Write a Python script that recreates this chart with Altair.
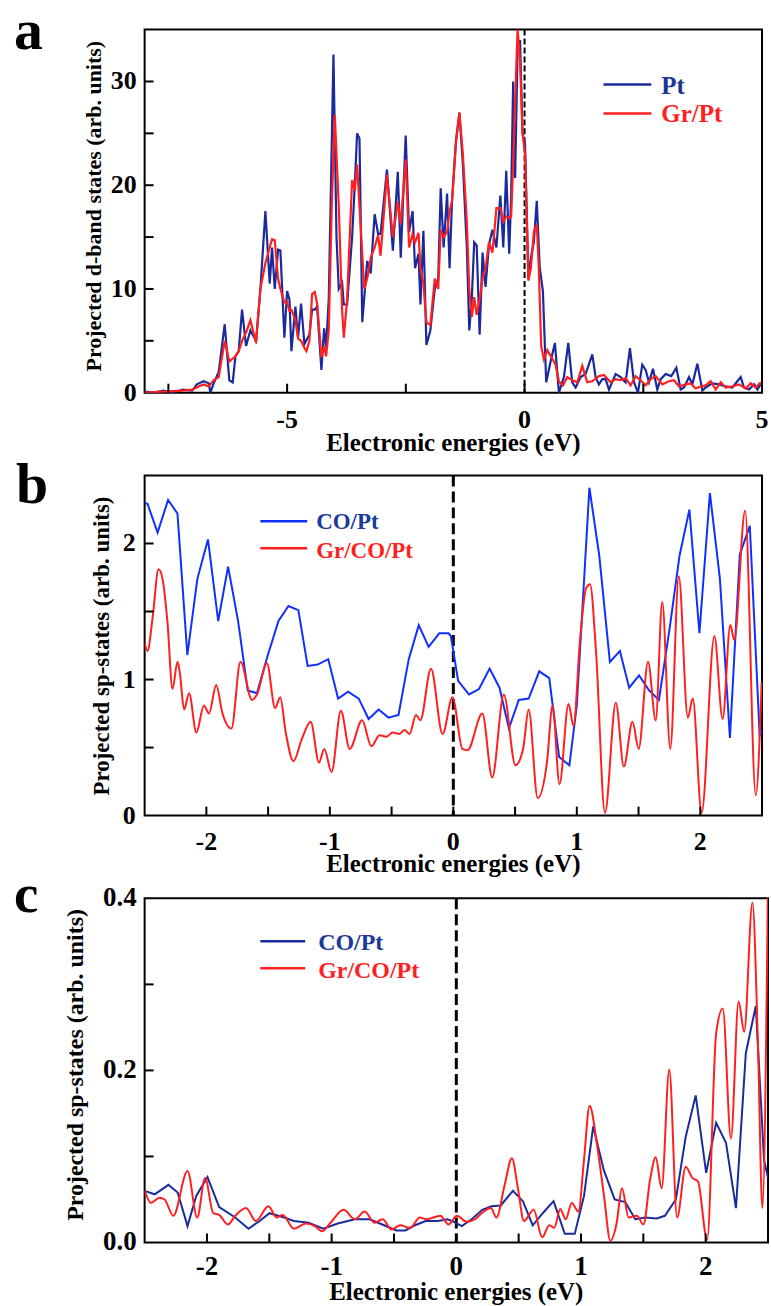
import altair as alt
import pandas as pd

FONT = "Liberation Serif"

# ---------------- Panel a : projected d-band states ----------------
a_pt_e = [-8.0, -7.8, -7.6, -7.4, -7.2, -7.0, -6.9, -6.76, -6.65, -6.616,
          -6.546, -6.44, -6.314, -6.216, -6.145, -6.089, -6.019, -5.949, -5.864, -5.773,
          -5.654, -5.562, -5.457, -5.366, -5.317, -5.26, -5.19, -5.141, -5.057, -5.0,
          -4.951, -4.909, -4.825, -4.769, -4.706, -4.635, -4.53, -4.474, -4.418, -4.368,
          -4.277, -4.221, -4.179, -4.123, -4.024, -3.96, -3.912, -3.842, -3.806, -3.736,
          -3.631, -3.575, -3.526, -3.476, -3.417, -3.313, -3.24, -3.157, -3.084, -3.032,
          -2.898, -2.773, -2.669, -2.607, -2.503, -2.431, -2.358, -2.306, -2.233, -2.192,
          -2.13, -2.067, -1.984, -1.891, -1.818, -1.766, -1.704, -1.631, -1.579, -1.527,
          -1.445, -1.372, -1.299, -1.216, -1.164, -1.112, -1.06, -1.008, -0.946, -0.884,
          -0.822, -0.749, -0.676, -0.593, -0.51, -0.448, -0.386, -0.323, -0.282, -0.24,
          -0.199, -0.147, -0.095, -0.043, 0.01, 0.081, 0.133, 0.195, 0.257, 0.32,
          0.386, 0.456, 0.548, 0.639, 0.723, 0.829, 0.92, 1.004, 1.075, 1.18,
          1.285, 1.426, 1.496, 1.566, 1.637, 1.707, 1.777, 1.917, 2.023, 2.128,
          2.219, 2.304, 2.388, 2.479, 2.55, 2.62, 2.704, 2.795, 2.866, 2.971,
          3.09, 3.196, 3.287, 3.357, 3.463, 3.533, 3.638, 3.744, 3.814, 3.954,
          4.095, 4.235, 4.376, 4.551, 4.621, 4.727, 4.832, 4.902, 4.973]
a_pt_v = [0.1, 0.0, 0.2, 0.0, 0.3, 0.2, 0.8, 1.1, 0.9, 0.0,
          0.9, 2.0, 6.6, 1.2, 1.0, 3.5, 4.0, 8.0, 4.5, 6.0,
          5.0, 10.0, 17.5, 10.5, 14.0, 10.0, 13.8, 13.7, 5.3, 9.8,
          9.0, 4.0, 8.3, 5.3, 8.6, 4.7, 5.6, 8.0, 8.0, 8.3,
          2.2, 6.2, 4.4, 9.0, 32.6, 15.0, 10.0, 10.6, 8.5, 8.5,
          15.0, 20.0, 25.0, 24.5, 6.8, 12.7, 11.5, 17.2, 15.3, 15.3,
          21.5, 13.7, 21.3, 13.0, 24.8, 15.5, 17.5, 12.0, 13.4, 8.5,
          15.6, 4.6, 6.0, 10.0, 11.0, 19.7, 14.0, 19.2, 12.0, 18.5,
          24.3, 27.0, 22.0, 14.0, 6.0, 9.0, 14.5, 14.2, 5.6, 13.5,
          10.2, 14.3, 15.7, 14.0, 19.0, 14.0, 21.4, 13.4, 19.0, 30.0,
          20.7, 33.0, 34.0, 25.0, 24.0, 11.0, 13.0, 14.5, 18.5, 12.0,
          9.8, 1.0, 3.0, 4.8, 0.0, 1.5, 4.8, 1.0, 0.5, 1.5,
          1.8, 3.7, 1.5, 0.8, 1.3, 1.3, 0.3, 1.8, 1.5, 1.0,
          4.3, 1.0, 0.0, 2.7, 2.2, 1.0, 2.3, 0.3, 1.3, 1.8,
          1.6, 2.4, 0.3, 0.5, 1.5, 0.8, 2.8, 0.2, 0.5, 0.9,
          0.8, 0.6, 0.5, 1.5, 0.5, 0.3, 0.8, 0.3, 0.8]

a_gr_e = [-8.0, -7.6, -7.2, -7.0, -6.862, -6.76, -6.651, -6.546, -6.44, -6.314,
          -6.216, -6.089, -6.019, -5.949, -5.864, -5.773, -5.654, -5.562, -5.457, -5.317,
          -5.26, -5.19, -5.141, -5.057, -5.0, -4.951, -4.909, -4.825, -4.769, -4.706,
          -4.635, -4.593, -4.53, -4.474, -4.418, -4.368, -4.277, -4.221, -4.179, -4.123,
          -4.06, -3.996, -3.912, -3.842, -3.806, -3.736, -3.631, -3.575, -3.526, -3.476,
          -3.375, -3.313, -3.24, -3.157, -3.084, -3.032, -2.898, -2.773, -2.669, -2.607,
          -2.503, -2.431, -2.358, -2.306, -2.233, -2.192, -2.13, -2.067, -1.984, -1.891,
          -1.818, -1.766, -1.704, -1.631, -1.579, -1.527, -1.445, -1.372, -1.299, -1.216,
          -1.164, -1.112, -1.06, -1.008, -0.946, -0.884, -0.822, -0.749, -0.676, -0.593,
          -0.51, -0.448, -0.386, -0.323, -0.282, -0.24, -0.199, -0.147, -0.095, -0.043,
          0.01, 0.081, 0.133, 0.195, 0.257, 0.30, 0.35, 0.407, 0.478, 0.583,
          0.653, 0.723, 0.808, 0.899, 1.004, 1.11, 1.215, 1.32, 1.426, 1.566,
          1.672, 1.812, 1.917, 2.023, 2.128, 2.233, 2.339, 2.444, 2.55, 2.655,
          2.76, 2.9, 3.041, 3.147, 3.252, 3.392, 3.498, 3.603, 3.708, 3.814,
          3.919, 4.024, 4.13, 4.235, 4.376, 4.516, 4.657, 4.762, 4.867, 4.973]
a_gr_v = [0.0, 0.1, 0.2, 0.3, 0.6, 0.8, 0.6, 1.2, 1.5, 5.0,
          3.0, 3.5, 4.0, 5.0, 5.8, 7.0, 4.8, 10.0, 12.5, 14.8,
          14.7, 11.0, 10.0, 8.7, 8.7, 7.9, 8.0, 7.0, 5.2, 5.0,
          4.3, 4.0, 5.0, 9.5, 9.7, 8.6, 3.4, 4.5, 3.5, 6.0,
          18.0, 26.8, 18.0, 8.0, 5.3, 9.0, 20.5, 19.5, 22.0, 18.0,
          10.0, 11.0, 13.0, 14.0, 15.2, 13.2, 21.0, 15.0, 18.4, 16.3,
          22.5, 14.0, 15.3, 14.5, 15.4, 12.0, 10.5, 6.8, 6.5, 11.0,
          10.0, 15.7, 15.0, 15.5, 17.5, 18.5, 24.0, 27.0, 23.0, 16.5,
          10.0, 7.3, 9.2, 7.5, 9.0, 11.0, 12.0, 14.5, 13.5, 17.8,
          17.8, 16.5, 17.0, 16.8, 17.0, 22.0, 28.0, 35.0, 32.0, 25.0,
          23.0, 10.8, 12.0, 15.5, 16.2, 12.0, 4.5, 3.2, 4.1, 3.3,
          2.7, 1.1, 0.7, 1.5, 1.2, 1.0, 2.6, 1.0, 1.1, 1.6,
          1.7, 1.0, 1.3, 1.2, 1.4, 0.7, 1.6, 1.2, 0.7, 1.3,
          1.6, 0.8, 1.1, 1.2, 0.6, 0.8, 0.9, 0.4, 0.6, 0.7,
          1.1, 0.3, 1.0, 0.5, 0.6, 0.8, 0.4, 0.9, 0.5, 1.0]

# ---------------- Panel b : projected sp-states ----------------
b_co_e = [-2.5, -2.476, -2.395, -2.31, -2.234, -2.154, -2.073, -1.987, -1.904, -1.824,
          -1.743, -1.665, -1.59, -1.502, -1.416, -1.335, -1.255, -1.18, -1.099, -1.013,
          -0.933, -0.852, -0.766, -0.686, -0.605, -0.525, -0.444, -0.361, -0.28, -0.2,
          -0.114, -0.039, -0.02, 0.039, 0.127, 0.208, 0.294, 0.374, 0.45, 0.53,
          0.61, 0.696, 0.777, 0.857, 0.94, 1.0, 1.053, 1.102, 1.182, 1.268,
          1.349, 1.424, 1.504, 1.585, 1.665, 1.751, 1.832, 1.912, 1.993, 2.078,
          2.159, 2.24, 2.32, 2.401, 2.481, 2.5]
b_co_v = [2.30, 2.29, 2.08, 2.32, 2.22, 1.18, 1.74, 2.03, 1.43, 1.83,
          1.43, 0.92, 0.90, 1.18, 1.43, 1.54, 1.51, 1.10, 1.11, 1.15,
          0.86, 0.91, 0.86, 0.71, 0.78, 0.72, 0.74, 1.15, 1.40, 1.24,
          1.34, 1.34, 1.32, 0.99, 0.89, 0.93, 1.08, 0.94, 0.64, 0.85,
          0.86, 1.06, 1.01, 0.43, 0.37, 0.81, 1.64, 2.41, 1.91, 1.13,
          1.21, 0.94, 1.03, 0.92, 0.85, 1.37, 1.91, 2.25, 1.34, 2.37,
          1.74, 0.57, 1.92, 2.13, 0.59, 0.62]

b_gr_e = [-2.5, -2.476, -2.436, -2.387, -2.355, -2.315, -2.274, -2.234, -2.215, -2.18,
          -2.14, -2.081, -2.02, -1.979, -1.92, -1.872, -1.797, -1.724, -1.63, -1.59,
          -1.51, -1.443, -1.402, -1.357, -1.295, -1.228, -1.155, -1.088, -1.045, -0.986,
          -0.911, -0.839, -0.739, -0.664, -0.597, -0.543, -0.49, -0.436, -0.396, -0.355,
          -0.302, -0.267, -0.181, -0.087, -0.007, 0.074, 0.114, 0.235, 0.315, 0.409,
          0.503, 0.565, 0.61, 0.683, 0.758, 0.804, 0.86, 0.933, 0.973, 1.027,
          1.075, 1.107, 1.156, 1.228, 1.316, 1.381, 1.451, 1.501, 1.577, 1.639,
          1.692, 1.757, 1.826, 1.899, 1.939, 2.011, 2.114, 2.181, 2.243, 2.275,
          2.363, 2.449, 2.497]
b_gr_v = [1.27, 1.21, 1.45, 1.81, 1.74, 1.42, 0.93, 1.13, 1.05, 0.78,
          0.90, 0.61, 0.81, 0.75, 0.96, 0.76, 0.64, 1.13, 0.85, 0.89,
          1.12, 0.79, 0.87, 0.61, 0.40, 0.56, 0.69, 0.39, 0.49, 0.32,
          0.77, 0.49, 0.70, 0.51, 0.59, 0.58, 0.61, 0.60, 0.63, 0.60,
          0.74, 0.70, 1.08, 0.60, 0.87, 0.49, 0.48, 0.75, 0.28, 0.89,
          0.37, 0.49, 0.78, 0.13, 0.39, 0.81, 0.23, 0.82, 0.66, 1.30,
          1.67, 1.70, 1.20, 0.02, 0.83, 0.36, 0.69, 0.49, 1.13, 0.70,
          1.57, 0.49, 1.76, 0.72, 0.86, 0.02, 1.32, 0.71, 1.40, 1.29,
          2.24, 0.15, 0.98]

# ---------------- Panel c : projected sp-states ----------------
c_co_e = [-2.5, -2.419, -2.309, -2.235, -2.156, -2.086, -1.996, -1.902, -1.773, -1.667,
          -1.577, -1.499, -1.381, -1.303, -1.185, -1.068, -0.951, -0.813, -0.696, -0.579,
          -0.481, -0.41, -0.332, -0.246, -0.148, -0.07, -0.019, 0.044, 0.123, 0.208,
          0.282, 0.356, 0.454, 0.534, 0.613, 0.693, 0.78, 0.87, 0.95, 1.024,
          1.098, 1.183, 1.27, 1.355, 1.435, 1.514, 1.607, 1.673, 1.761, 1.84,
          1.92, 2.004, 2.084, 2.163, 2.243, 2.322, 2.402, 2.468, 2.5]
c_co_v = [0.060, 0.056, 0.067, 0.058, 0.019, 0.054, 0.076, 0.041, 0.029, 0.016,
          0.025, 0.034, 0.029, 0.025, 0.023, 0.016, 0.022, 0.027, 0.027, 0.020,
          0.014, 0.014, 0.020, 0.025, 0.025, 0.027, 0.024, 0.019, 0.027, 0.038,
          0.042, 0.043, 0.060, 0.048, 0.020, 0.034, 0.048, 0.010, 0.010, 0.054,
          0.135, 0.084, 0.050, 0.047, 0.027, 0.029, 0.028, 0.031, 0.050, 0.123,
          0.171, 0.081, 0.139, 0.116, 0.040, 0.220, 0.275, 0.096, 0.075]

c_gr_e = [-2.5, -2.45, -2.38, -2.34, -2.27, -2.156, -2.078, -2.015, -1.949, -1.902,
          -1.832, -1.773, -1.687, -1.608, -1.507, -1.44, -1.393, -1.303, -1.205, -1.135,
          -1.076, -1.009, -0.904, -0.813, -0.735, -0.657, -0.59, -0.52, -0.45, -0.371,
          -0.293, -0.238, -0.128, -0.062, 0.004, 0.083, 0.15, 0.203, 0.277, 0.322,
          0.388, 0.446, 0.494, 0.542, 0.621, 0.688, 0.746, 0.786, 0.833, 0.878,
          0.926, 0.979, 1.024, 1.069, 1.13, 1.183, 1.236, 1.284, 1.329, 1.382,
          1.448, 1.501, 1.554, 1.599, 1.647, 1.708, 1.771, 1.84, 1.893, 1.938,
          2.012, 2.084, 2.137, 2.203, 2.264, 2.309, 2.375, 2.42, 2.455, 2.5]
c_gr_v = [0.061, 0.046, 0.052, 0.050, 0.031, 0.083, 0.029, 0.075, 0.034, 0.032,
          0.021, 0.031, 0.040, 0.025, 0.042, 0.029, 0.032, 0.016, 0.022, 0.019,
          0.013, 0.023, 0.038, 0.027, 0.036, 0.023, 0.027, 0.015, 0.020, 0.017,
          0.029, 0.027, 0.031, 0.021, 0.031, 0.024, 0.027, 0.034, 0.040, 0.029,
          0.067, 0.098, 0.063, 0.025, 0.038, 0.006, 0.020, 0.017, 0.039, 0.027,
          0.046, 0.036, 0.096, 0.159, 0.112, 0.056, 0.002, 0.021, 0.063, 0.029,
          0.031, 0.021, 0.073, 0.099, 0.063, 0.201, 0.029, 0.088, 0.075, 0.071,
          0.003, 0.243, 0.272, 0.121, 0.280, 0.245, 0.395, 0.227, 0.040, 0.42]

# axis ticks and tick labels
a_xticks = [-7.5, -5, -2.5, 0, 2.5]
a_xlabels = [-5, 0, 5]
a_yticks = [5, 10, 15, 20, 25, 30]
a_ylabels = [0, 10, 20, 30]
bc_xticks = [-2.0, -1.5, -1.0, -0.5, 0.0, 0.5, 1.0, 1.5, 2.0]
bc_xlabels = [-2, -1, 0, 1, 2]
b_yticks = [0.5, 1.0, 1.5, 2.0]
b_ylabels = [0, 1, 2]
c_yticks = [0.1, 0.2, 0.3]
c_ylabels = [0.0, 0.2, 0.4]

RED = "#ff1f1f"
XTITLE = "Electronic energies (eV)"


def make_panel(blue_df, red_df, blue_color, red_interp, xdom, ydom,
               xtick, xlab, ytick, ylab, yfmt, w, h,
               lab_fs, xlab_pad, ylab_pad, xtitle_fs, xtitle_y,
               ytitle, ytitle_fs, ytitle_x, ytitle_y,
               dash, dash_w, line_w, letter, letter_x, letter_y, letter_fs,
               legend, leg_x0, leg_x1, leg_tx, leg_fs):
    xs = alt.Scale(domain=xdom, nice=False, zero=False)
    ys = alt.Scale(domain=ydom, nice=False, zero=False)

    def X(field):
        return alt.X(field, type="quantitative", scale=xs, axis=None)

    def Y(field):
        return alt.Y(field, type="quantitative", scale=ys, axis=None)

    txt = dict(font=FONT, fontWeight="bold", color="black")

    zero = alt.Chart(pd.DataFrame({"e": [0.0]})).mark_rule(
        color="black", strokeWidth=dash_w, strokeDash=dash
    ).encode(x=X("e"))

    blue = alt.Chart(blue_df).mark_line(
        color=blue_color, strokeWidth=line_w, clip=True
    ).encode(x=X("e"), y=Y("v"))

    red = alt.Chart(red_df).mark_line(
        color=RED, strokeWidth=line_w, clip=True, interpolate=red_interp
    ).encode(x=X("e"), y=Y("v"))

    # inward ticks on bottom and left frame edges
    bticks = alt.Chart(pd.DataFrame({"t": xtick})).mark_tick(
        orient="vertical", size=9, thickness=2, color="black", opacity=1
    ).encode(x=X("t"), y=alt.value(h - 4.5))
    lticks = alt.Chart(pd.DataFrame({"t": ytick})).mark_tick(
        orient="horizontal", size=9, thickness=2, color="black", opacity=1
    ).encode(y=Y("t"), x=alt.value(4.5))

    # tick labels, placed through the scales
    xl = alt.Chart(pd.DataFrame({"e": xlab})).transform_calculate(
        s="datum.e + ''"
    ).mark_text(align="center", baseline="top", fontSize=lab_fs, **txt).encode(
        x=X("e"), y=alt.value(h + xlab_pad), text="s:N")
    yl = alt.Chart(pd.DataFrame({"v": ylab})).mark_text(
        align="right", baseline="middle", fontSize=lab_fs, **txt
    ).encode(y=Y("v"), x=alt.value(-ylab_pad), text=alt.Text("v:Q", format=yfmt))

    # axis titles
    xt = alt.Chart(pd.DataFrame({"s": [XTITLE]})).mark_text(
        align="center", baseline="alphabetic", fontSize=xtitle_fs, **txt
    ).encode(x=alt.value(w / 2), y=alt.value(h + xtitle_y), text="s:N")
    yt = alt.Chart(pd.DataFrame({"s": [ytitle]})).mark_text(
        align="center", baseline="alphabetic", angle=270, fontSize=ytitle_fs, **txt
    ).encode(x=alt.value(ytitle_x), y=alt.value(ytitle_y), text="s:N")

    layers = [zero, blue, red, xl, yl, xt, yt]
    for label, lcolor, tcolor, ly, ty in legend:
        base = alt.Chart(pd.DataFrame({"label": [label]}))
        layers.append(base.mark_rule(color=lcolor, strokeWidth=2.5).encode(
            x=alt.value(leg_x0), x2=alt.value(leg_x1), y=alt.value(ly)))
        layers.append(base.mark_text(align="left", baseline="alphabetic", font=FONT,
                                     fontWeight="bold", fontSize=leg_fs,
                                     color=tcolor).encode(
            x=alt.value(leg_tx), y=alt.value(ty), text="label:N"))

    lt = alt.Chart(pd.DataFrame({"t": [letter]})).mark_text(
        align="left", baseline="alphabetic", fontSize=letter_fs, **txt
    ).encode(x=alt.value(letter_x), y=alt.value(letter_y), text="t:N")
    layers.append(lt)
    layers += [bticks, lticks]

    return alt.layer(*layers).properties(width=w, height=h)


df = lambda e, v: pd.DataFrame({"e": e, "v": v})

blue_a = "#1a2a9c"
blue_b = "#1030ff"
blue_c = "#1a2c9c"

pa = make_panel(df(a_pt_e, a_pt_v), df(a_gr_e, a_gr_v), blue_a, "linear",
                [-8, 5], [0, 35], a_xticks, a_xlabels, a_yticks, a_ylabels, "d",
                619, 364, 26, 14, 8, 25, 58,
                "Projected d-band states (arb. units)", 22, -44, 177,
                [6, 3], 2, 2.2, "a", -131, 19, 58,
                [("Pt", blue_a, "#1a3596", 55, 65), ("Gr/Pt", RED, RED, 84, 93)],
                460, 508, 518, 25)

pb = make_panel(df(b_co_e, b_co_v), df(b_gr_e, b_gr_v), blue_b, "monotone",
                [-2.5, 2.5], [0, 2.5], bc_xticks, bc_xlabels, b_yticks, b_ylabels, "d",
                619, 341, 26, 14, 9, 25, 57,
                "Projected sp-states (arb. units)", 23, -36, 171,
                [11, 5], 3, 2, "b", -129, 28, 58,
                [("CO/Pt", blue_b, "#1a3a9a", 46, 54), ("Gr/CO/Pt", RED, RED, 73, 83)],
                116, 163, 172, 23)

pc = make_panel(df(c_co_e, c_co_v), df(c_gr_e, c_gr_v), blue_c, "monotone",
                [-2.5, 2.5], [0, 0.4], bc_xticks, bc_xlabels, c_yticks, c_ylabels, ".1f",
                625, 345, 27, 12, 8, 25, 58,
                "Projected sp-states (arb. units)", 24, -62, 167,
                [11, 5], 3, 2, "c", -131, 14, 55,
                [("CO/Pt", blue_c, "#1a3a9a", 43, 52), ("Gr/CO/Pt", RED, RED, 70, 80)],
                116, 161, 174, 24)

chart = alt.vconcat(pa, pb, pc, spacing=83, bounds="flush").resolve_scale(
    x="independent", y="independent"
).properties(
    padding={"left": 13, "top": 0, "right": 1, "bottom": 1},
    autosize=alt.AutoSizeParams(type="pad"),
    background="white",
).configure_view(stroke="black", strokeWidth=2)

chart.save("out.html", embed_options={"renderer": "svg", "actions": False})
